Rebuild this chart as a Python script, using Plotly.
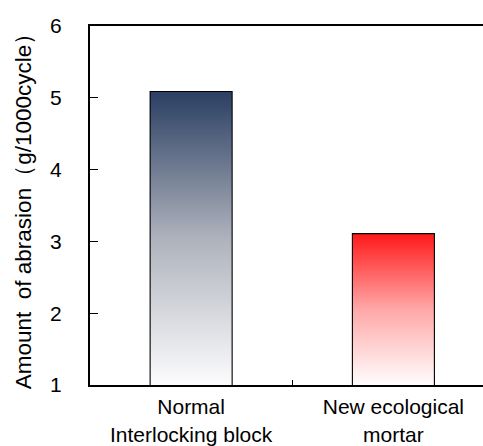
import plotly.graph_objects as go

categories = ["Normal<br>Interlocking block", "New ecological<br>mortar"]
values = [5.08, 3.1]
top_colors = ["#2B3F63", "#FF1A1A"]
mid_colors = ["#AEB2BC", "#FFA8A8"]
bottom_colors = ["#FCFCFD", "#FFFDFD"]
y_ticks = [1, 2, 3, 4, 5, 6]

bar_width = 0.4
y_min, y_max = 1, 6
positions = list(range(len(categories)))

font_family = "Arial, Liberation Sans, sans-serif"

fig = go.Figure()

for i, v in enumerate(values):
    x0, x1 = positions[i] - bar_width / 2, positions[i] + bar_width / 2
    fig.add_trace(go.Scatter(
        x=[x0, x0, x1, x1, x0],
        y=[y_min, v, v, y_min, y_min],
        fill="toself",
        mode="lines",
        line=dict(width=0, color="rgba(0,0,0,0)"),
        fillgradient=dict(
            type="vertical",
            colorscale=[[0, bottom_colors[i]], [0.5, mid_colors[i]], [1, top_colors[i]]],
        ),
        hoverinfo="skip",
        showlegend=False,
    ))

fig.add_trace(go.Bar(
    x=positions,
    y=values,
    width=bar_width,
    marker=dict(color="rgba(0,0,0,0)", line=dict(color="black", width=2.2)),
    showlegend=False,
))

x_range = [-0.5, 1.443]

fig.update_layout(
    width=483,
    height=446,
    margin=dict(l=90, r=0, t=26, b=59),
    plot_bgcolor="white",
    paper_bgcolor="white",
    font=dict(family=font_family, size=21, color="black"),
    xaxis=dict(
        range=x_range,
        tickvals=positions,
        ticktext=categories,
        ticks="",
        showline=True,
        linecolor="black",
        linewidth=2,
        mirror=True,
        showgrid=False,
        zeroline=False,
        tickfont=dict(size=21),
        ticklabelstandoff=2,
    ),
    xaxis2=dict(
        range=x_range,
        overlaying="x",
        anchor="y",
        side="bottom",
        tickvals=[0.5],
        ticks="inside",
        ticklen=5,
        tickwidth=1,
        tickcolor="black",
        showticklabels=False,
        showline=False,
        showgrid=False,
        zeroline=False,
    ),
    yaxis=dict(
        range=[y_min, y_max],
        tickvals=y_ticks,
        ticks="inside",
        ticklen=8,
        tickwidth=1,
        tickcolor="black",
        showline=True,
        linecolor="black",
        linewidth=2,
        mirror=False,
        showgrid=False,
        zeroline=False,
        tickfont=dict(size=21),
        ticklabelstandoff=22,
        title=dict(text="Amount  of abrasion（g/1000cycle）", font=dict(size=22.5), standoff=12),
    ),
)

# invisible trace to activate xaxis2
fig.add_trace(go.Scatter(x=[0.5], y=[y_min], xaxis="x2", mode="markers",
                         marker=dict(opacity=0), hoverinfo="skip", showlegend=False))

fig.write_html("out.html")
